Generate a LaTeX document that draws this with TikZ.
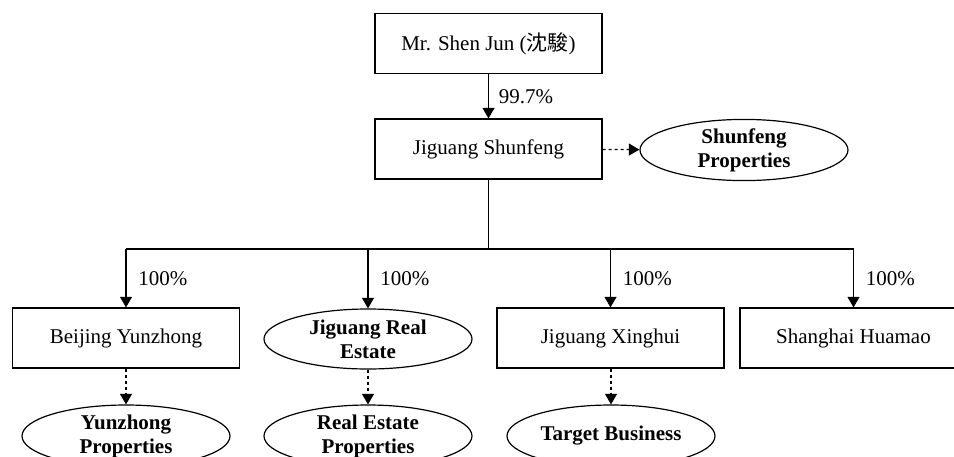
\documentclass[tikz,border=0pt]{standalone}
\usepackage{fontspec}
\setmainfont{Liberation Serif}
\newfontfamily\cjkfont{Noto Sans CJK TC}
\usetikzlibrary{arrows.meta,shapes.geometric}
\begin{document}
\begin{tikzpicture}[x=0.5pt,y=-0.5pt,line width=0.6pt,>={Triangle[length=5.3pt,width=6pt]},
	font=\fontsize{10.5}{12}\selectfont,
	cobox/.style={draw,rectangle,minimum width=113.5pt,minimum height=30pt,inner sep=0pt},
	propell/.style={draw,ellipse,minimum width=104pt,minimum height=29pt,inner sep=0pt,align=center,font=\fontsize{10.5}{12}\selectfont\bfseries},
	dotarrow/.style={->,dash pattern=on 1.5pt off 1.5pt},
	pct/.style={right,xshift=2.5pt}]
	\useasboundingbox (0,0) rectangle (954,456);
	\clip (0,0) rectangle (954,456);
	% owner and holding company
	\node[cobox] (shen) at (488.5,43.5) {Mr. Shen Jun ({\cjkfont 沈駿})};
	\node[cobox] (shunfeng) at (488.5,149) {Jiguang Shunfeng};
	\node[propell] (sfprop) at (744,150) {Shunfeng\\Properties};
	\draw[->] (shen) -- node[pct,xshift=-1pt]{99.7\%} (shunfeng);
	\draw[dotarrow] (shunfeng) -- (sfprop);
	% subsidiaries
	\node[cobox] (yunzhong) at (126,338) {Beijing Yunzhong};
	\node[propell,minimum height=30pt] (jgre) at (368,339) {Jiguang Real\\Estate};
	\node[cobox] (xinghui) at (610.5,338) {Jiguang Xinghui};
	\node[cobox] (huamao) at (853.5,338) {Shanghai Huamao};
	\coordinate (bus) at (488.5,249);
	\draw (shunfeng) -- (bus);
	\draw (bus -| yunzhong.north) -- (bus -| huamao.north);
	\foreach \c in {yunzhong,jgre,xinghui,huamao}
		\draw[->] (bus -| \c.north) -- node[pct]{100\%} (\c.north);
	% properties
	\node[propell,minimum height=31pt] (yzprop) at (126,436) {Yunzhong\\Properties};
	\node[propell,minimum height=31pt] (reprop) at (368,436) {Real Estate\\Properties};
	\node[propell,minimum height=31pt] (target) at (611,436) {Target Business};
	\draw[dotarrow] (yunzhong) -- (yzprop);
	\draw[dotarrow] (jgre) -- (reprop);
	\draw[dotarrow] (xinghui.south -| target) -- (target);
\end{tikzpicture}
\end{document}
